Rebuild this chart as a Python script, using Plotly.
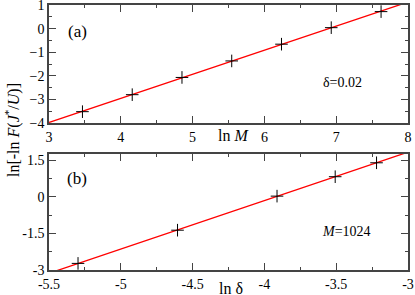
import numpy as np
import plotly.graph_objects as go

# Panel (a): delta = 0.02
lnM = [3.466, 4.159, 4.852, 5.545, 6.238, 6.931, 7.625]
ya = [-3.52, -2.80, -2.07, -1.37, -0.66, 0.04, 0.72]
# Panel (b): M = 1024
lndelta = [-5.298, -4.605, -3.912, -3.507, -3.219]
yb = [-2.73, -1.37, 0.025, 0.82, 1.39]

xa_ticks = [3, 4, 5, 6, 7, 8]
ya_ticks = [-4, -3, -2, -1, 0, 1]
xb_ticks = [-5.5, -5, -4.5, -4, -3.5, -3]
yb_ticks = [-3, -1.5, 0, 1.5]

FONT = "Liberation Serif"

pa = np.polyfit(lnM, ya, 1)
pb = np.polyfit(lndelta, yb, 1)
fxa = np.linspace(3, 8, 50)
fxb = np.linspace(-5.5, -3, 50)

mk = dict(symbol="cross-thin", size=9, line=dict(color="black", width=1))
fig = go.Figure()
fig.add_trace(go.Scatter(x=fxa, y=np.polyval(pa, fxa), mode="lines",
                         line=dict(color="red", width=1.3), xaxis="x", yaxis="y", showlegend=False))
fig.add_trace(go.Scatter(x=lnM, y=ya, mode="markers", marker=mk,
                         xaxis="x", yaxis="y", showlegend=False))
fig.add_trace(go.Scatter(x=fxb, y=np.polyval(pb, fxb), mode="lines",
                         line=dict(color="red", width=1.3), xaxis="x2", yaxis="y2", showlegend=False))
fig.add_trace(go.Scatter(x=lndelta, y=yb, mode="markers", marker=mk,
                         xaxis="x2", yaxis="y2", showlegend=False))

axcommon = dict(showgrid=False, zeroline=False, showline=True, linecolor="#444", linewidth=1.5,
                mirror="allticks", ticks="inside", ticklen=7, tickwidth=1, tickcolor="#444",
                automargin=False, ticklabeloverflow="allow",
                tickfont=dict(family=FONT, size=14, color="black"))

fig.update_layout(
    width=415, height=295,
    margin=dict(l=49, r=7, t=5, b=25),
    paper_bgcolor="white", plot_bgcolor="white",
    font=dict(family=FONT),
    xaxis=dict(domain=[0, 1], anchor="y", range=[2.9999, 8.0001], tickvals=xa_ticks,
               minor=dict(dtick=0.5, ticklen=3.5, ticks="inside", tickcolor="#444"), **axcommon),
    yaxis=dict(domain=[147 / 265, 1], anchor="x", range=[-4.0001, 1.0001], tickvals=ya_ticks,
               minor=dict(dtick=0.5, ticklen=3.5, ticks="inside", tickcolor="#444"), **axcommon),
    xaxis2=dict(domain=[0, 1], anchor="y2", range=[-5.5001, -2.9999], tickvals=xb_ticks,
                ticktext=[str(v) for v in xb_ticks],
                minor=dict(dtick=0.25, ticklen=3.5, ticks="inside", tickcolor="#444"), **axcommon),
    yaxis2=dict(domain=[0, 116 / 265], anchor="x2", range=[-3.0001, 1.75], tickvals=yb_ticks,
                ticktext=["-3", "-1.5", "0", "1.5"],
                minor=dict(dtick=0.75, tick0=0, ticklen=3.5, ticks="inside", tickcolor="#444"), **axcommon),
)

ann_font = dict(family=FONT, size=14, color="black")
big_font = dict(family=FONT, size=16, color="black")
cc = dict(showarrow=False, xanchor="center", yanchor="middle")
fig.add_annotation(text="(a)", x=3.39, y=-0.13, xref="x", yref="y",
                   font=dict(family=FONT, size=17, color="black"), **cc)
fig.add_annotation(text="δ=0.02", x=7.09, y=-2.27, xref="x", yref="y", font=ann_font, **cc)
fig.add_annotation(text="(b)", x=-5.305, y=0.76, xref="x2", yref="y2",
                   font=dict(family=FONT, size=17, color="black"), **cc)
fig.add_annotation(text="<i>M</i>=1024", x=-3.425, y=-1.41, xref="x2", yref="y2", font=ann_font, **cc)
fig.add_annotation(text="ln <i>M</i>", x=(233 - 49) / 359, y=(270 - 135) / 265, xref="paper", yref="paper",
                   font=big_font, **cc)
fig.add_annotation(text="ln δ", x=(231 - 49) / 359, y=(270 - 288) / 265, xref="paper", yref="paper",
                   font=big_font, **cc)
fig.add_annotation(text="ln[-ln <i>F</i>(<i>J</i><sup>*</sup>/<i>U</i>)]", x=(12 - 49) / 359, y=(270 - 130) / 265,
                   xref="paper", yref="paper", textangle=-90, font=big_font, **cc)

fig.write_html("out.html", config={"displayModeBar": False},
               post_script="document.body.style.margin='0';document.body.style.overflow='hidden';")
